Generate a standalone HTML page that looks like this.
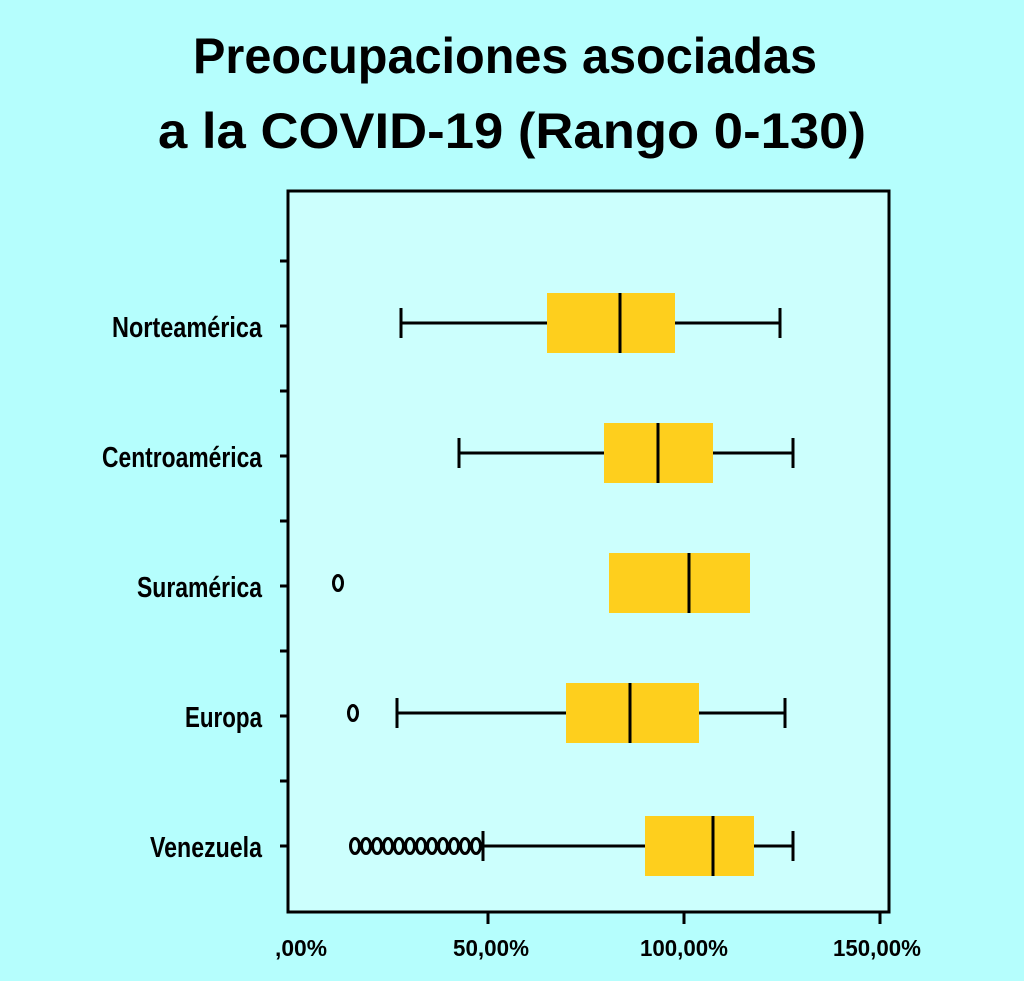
<!DOCTYPE html>
<html><head><meta charset="utf-8"><style>
html,body{margin:0;padding:0;background:#b5fefd;}
svg{display:block}
</style></head><body>
<svg width="1024" height="981" viewBox="0 0 1024 981" xmlns="http://www.w3.org/2000/svg" font-family="Liberation Sans, sans-serif" font-weight="bold">
<rect width="1024" height="981" fill="#b5fefd"/>
<text x="505" y="73" font-size="50" text-anchor="middle" textLength="624" lengthAdjust="spacingAndGlyphs">Preocupaciones asociadas</text>
<text x="512" y="148" font-size="50" text-anchor="middle" textLength="708" lengthAdjust="spacingAndGlyphs">a la COVID-19 (Rango 0-130)</text>
<rect x="288" y="191" width="601" height="721" fill="#ccfffd" stroke="#000" stroke-width="3"/>
<g stroke="#000" stroke-width="3">
<line x1="280" y1="261" x2="288" y2="261"/><line x1="280" y1="326" x2="288" y2="326"/>
<line x1="280" y1="391" x2="288" y2="391"/><line x1="280" y1="456" x2="288" y2="456"/>
<line x1="280" y1="521" x2="288" y2="521"/><line x1="280" y1="586" x2="288" y2="586"/>
<line x1="280" y1="651" x2="288" y2="651"/><line x1="280" y1="716" x2="288" y2="716"/>
<line x1="280" y1="781" x2="288" y2="781"/><line x1="280" y1="846" x2="288" y2="846"/>
<line x1="488" y1="912" x2="488" y2="924"/><line x1="684" y1="912" x2="684" y2="924"/><line x1="880" y1="912" x2="880" y2="924"/>
</g>
<g font-size="29" text-anchor="end">
<text x="262" y="337" textLength="150" lengthAdjust="spacingAndGlyphs">Norteamérica</text>
<text x="262" y="467" textLength="160" lengthAdjust="spacingAndGlyphs">Centroamérica</text>
<text x="262" y="597" textLength="125" lengthAdjust="spacingAndGlyphs">Suramérica</text>
<text x="262" y="727" textLength="77" lengthAdjust="spacingAndGlyphs">Europa</text>
<text x="262" y="857" textLength="112" lengthAdjust="spacingAndGlyphs">Venezuela</text>
</g>
<g font-size="23" text-anchor="middle">
<text x="301" y="956" textLength="52" lengthAdjust="spacingAndGlyphs">,00%</text>
<text x="491" y="956" textLength="76" lengthAdjust="spacingAndGlyphs">50,00%</text>
<text x="684" y="956" textLength="88" lengthAdjust="spacingAndGlyphs">100,00%</text>
<text x="877" y="956" textLength="88" lengthAdjust="spacingAndGlyphs">150,00%</text>
</g>
<g stroke="#000" stroke-width="3" fill="none">
<line x1="401" y1="323" x2="547" y2="323"/><line x1="675" y1="323" x2="780" y2="323"/>
<line x1="401" y1="308" x2="401" y2="338"/><line x1="780" y1="308" x2="780" y2="338"/>
<line x1="459" y1="453" x2="604" y2="453"/><line x1="713" y1="453" x2="793" y2="453"/>
<line x1="459" y1="438" x2="459" y2="468"/><line x1="793" y1="438" x2="793" y2="468"/>
<line x1="397" y1="713" x2="566" y2="713"/><line x1="699" y1="713" x2="785" y2="713"/>
<line x1="397" y1="698" x2="397" y2="728"/><line x1="785" y1="698" x2="785" y2="728"/>
<line x1="483" y1="846" x2="645" y2="846"/><line x1="754" y1="846" x2="793" y2="846"/>
<line x1="483" y1="831" x2="483" y2="861"/><line x1="793" y1="831" x2="793" y2="861"/>
</g>
<g fill="#fecf1d">
<rect x="547" y="293" width="128" height="60"/>
<rect x="604" y="423" width="109" height="60"/>
<rect x="609" y="553" width="141" height="60"/>
<rect x="566" y="683" width="133" height="60"/>
<rect x="645" y="816" width="109" height="60"/>
</g>
<g stroke="#000" stroke-width="3">
<line x1="620" y1="293" x2="620" y2="353"/>
<line x1="658" y1="423" x2="658" y2="483"/>
<line x1="689" y1="553" x2="689" y2="613"/>
<line x1="630" y1="683" x2="630" y2="743"/>
<line x1="713" y1="816" x2="713" y2="876"/>
</g>
<g stroke="#000" stroke-width="3" fill="none">
<ellipse cx="338" cy="583" rx="4.5" ry="7.5"/>
<ellipse cx="353" cy="713" rx="4.5" ry="7.5"/>
<ellipse cx="355" cy="846" rx="4.5" ry="7.5"/><ellipse cx="366" cy="846" rx="4.5" ry="7.5"/>
<ellipse cx="377" cy="846" rx="4.5" ry="7.5"/><ellipse cx="388" cy="846" rx="4.5" ry="7.5"/>
<ellipse cx="399" cy="846" rx="4.5" ry="7.5"/><ellipse cx="410" cy="846" rx="4.5" ry="7.5"/>
<ellipse cx="421" cy="846" rx="4.5" ry="7.5"/><ellipse cx="432" cy="846" rx="4.5" ry="7.5"/>
<ellipse cx="443" cy="846" rx="4.5" ry="7.5"/><ellipse cx="454" cy="846" rx="4.5" ry="7.5"/>
<ellipse cx="465" cy="846" rx="4.5" ry="7.5"/><ellipse cx="476" cy="846" rx="4.5" ry="7.5"/>
</g>
</svg>
</body></html>
